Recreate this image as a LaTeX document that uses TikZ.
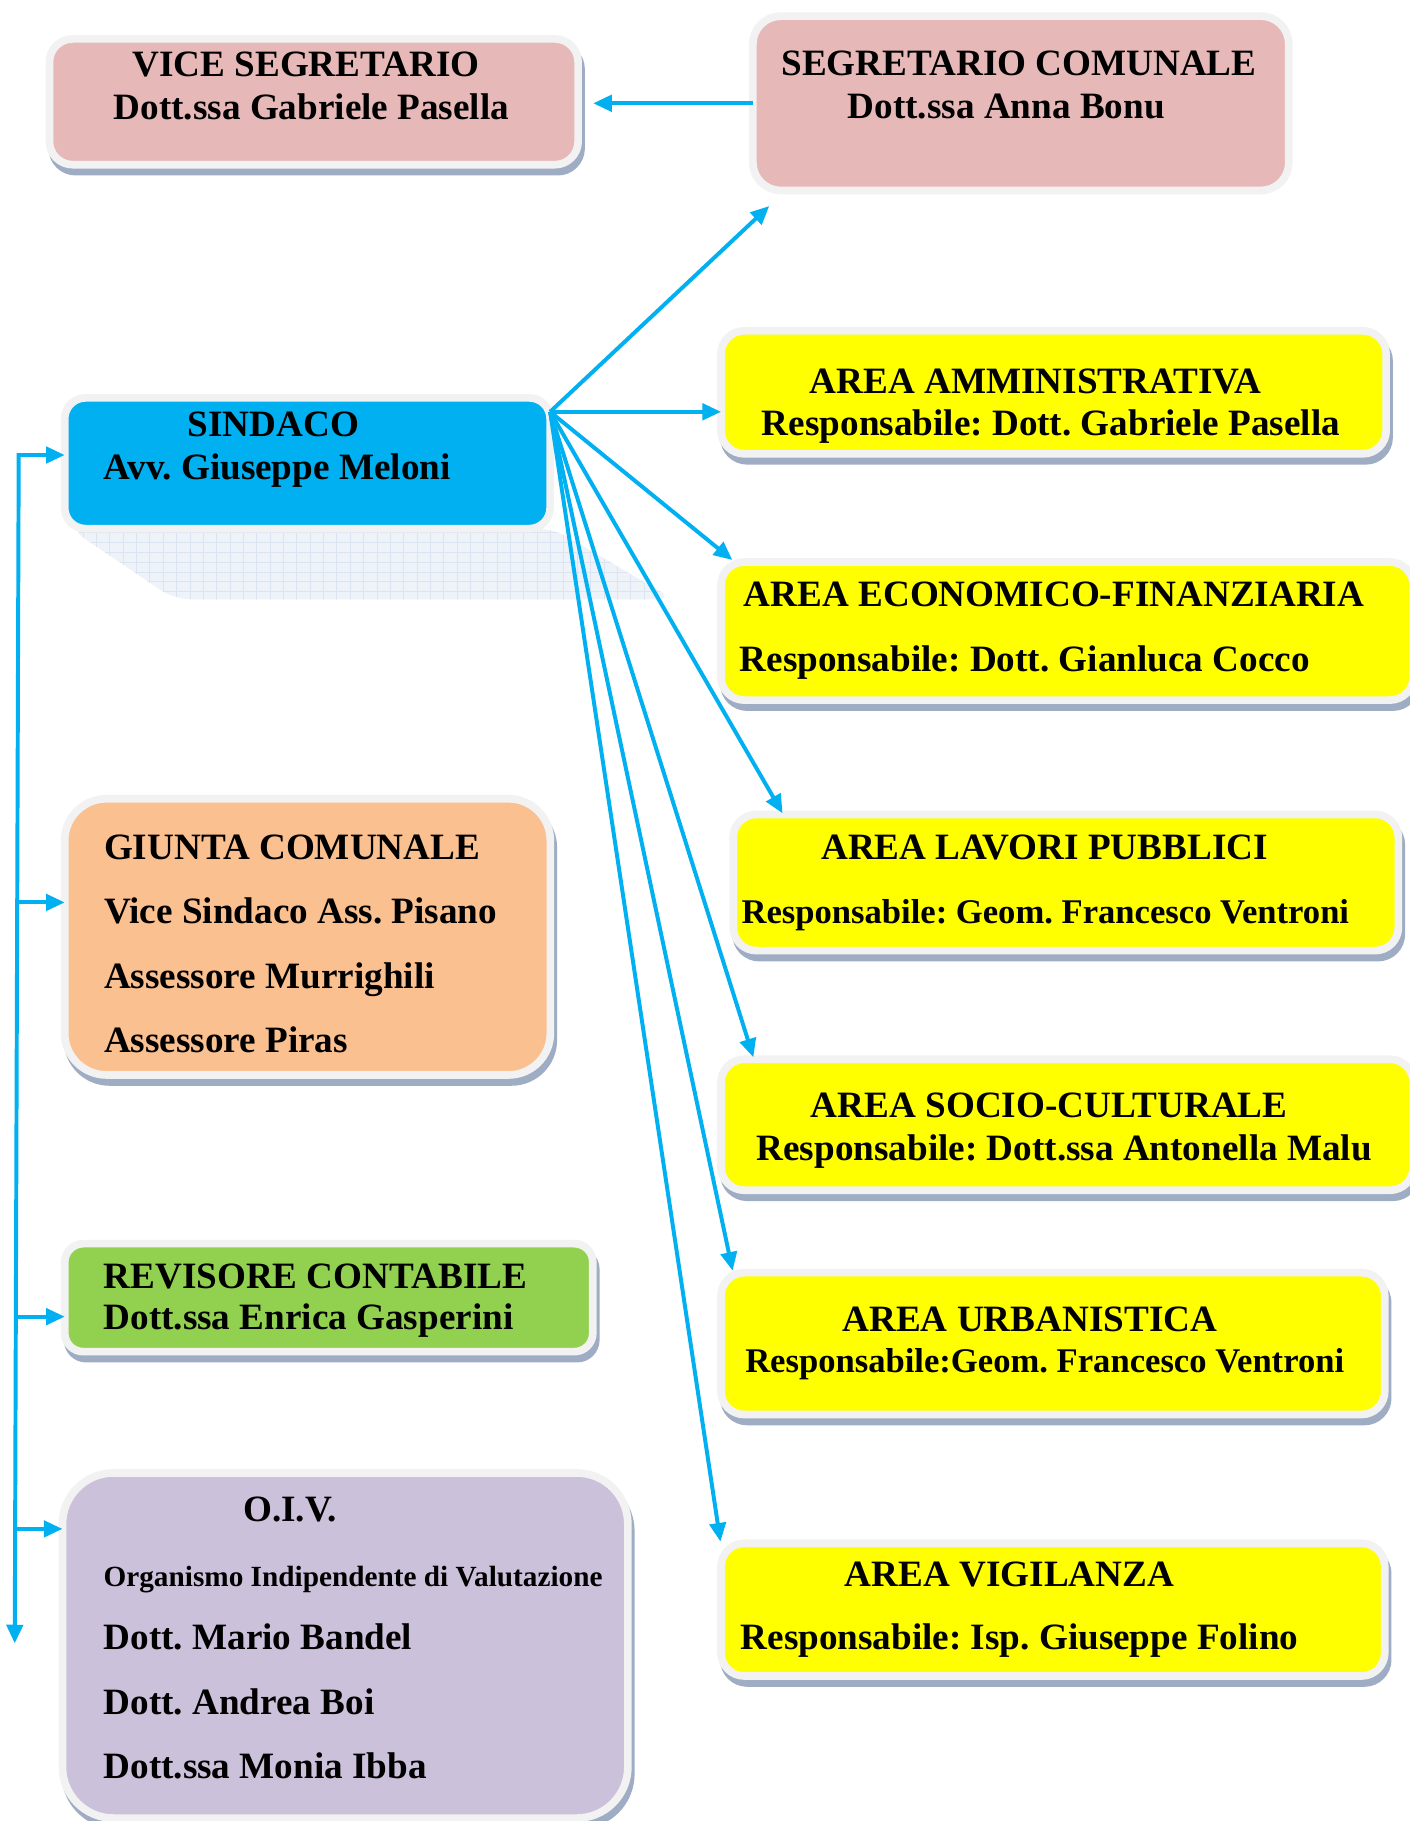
\documentclass[tikz,border=0pt]{standalone}
\usepackage{fontspec}
\newfontfamily\tnr{Liberation Serif}
\usetikzlibrary{arrows.meta,calc}
\pgfdeclarelayer{background}
\pgfsetlayers{background,main}
\definecolor{pinkc}{HTML}{E6B9B8}
\definecolor{bluec}{HTML}{00B0F0}
\definecolor{yellowc}{HTML}{FFFF00}
\definecolor{orangec}{HTML}{FAC090}
\definecolor{greenc}{HTML}{92D050}
\definecolor{lavc}{HTML}{CCC1DA}
\definecolor{bordc}{HTML}{F2F2F2}
\definecolor{arrc}{HTML}{00B0F0}
\definecolor{shc}{HTML}{9FADC4}
\definecolor{sindsh}{HTML}{EEF2F9}
\definecolor{sindgrid}{HTML}{DCE4F1}
\newcommand\mkshadow[2]{\begin{pgfonlayer}{background}\draw[shband,rounded corners=#2] ($(#1.north west)+(2.5,6)$) rectangle ($(#1.south east)+(2.5,6)$);\end{pgfonlayer}}
\frenchspacing
\begin{document}
\frenchspacing
\begin{tikzpicture}[x=1pt,y=-1pt,
  box/.style={rectangle,draw=bordc,line width=6.6pt,inner sep=0pt,outer sep=0pt},
  shband/.style={fill=shc,draw=shc,line width=6.6pt},
  txt/.style={anchor=base west,inner sep=0pt,outer sep=0pt,font=\tnr\bfseries\fontsize{32}{37}\selectfont\frenchspacing},
  txtv/.style={txt,font=\tnr\bfseries\fontsize{29.8}{36}\selectfont\frenchspacing},
  txts/.style={txt,font=\tnr\bfseries\fontsize{25.2}{30}\selectfont\frenchspacing},
  arr/.style={draw=arrc,line width=3.4pt,-{Triangle[length=16pt,width=14pt]}},
  darr/.style={draw=arrc,line width=3.4pt,{Triangle[length=16pt,width=14pt]}-{Triangle[length=16pt,width=14pt]}}]

\begin{pgfonlayer}{background}
\fill[white] (0,0) rectangle (1214,1568);
\end{pgfonlayer}
\useasboundingbox (0,0) rectangle (1214,1568);

% boxes
\node[box,fill=pinkc,rounded corners=20pt,minimum width=455.2pt,minimum height=108.3pt] (vice) at (270.2,87.65) {};
\node[box,fill=pinkc,rounded corners=24pt,minimum width=461.45pt,minimum height=150.1pt] (segr) at (879,88.95) {};
\node[box,fill=bluec,rounded corners=18pt,minimum width=418pt,minimum height=112.6pt] (sind) at (264.7,398.9) {};
\node[box,fill=yellowc,rounded corners=20pt,minimum width=572.7pt,minimum height=105.9pt] (amm) at (907.2,337.8) {};
\node[box,fill=yellowc,rounded corners=20pt,minimum width=596pt,minimum height=118.85pt] (eco) at (918.85,543.4) {};
\node[box,fill=yellowc,rounded corners=20pt,minimum width=572.75pt,minimum height=117.25pt] (lav) at (917.7,759.9) {};
\node[box,fill=yellowc,rounded corners=20pt,minimum width=596pt,minimum height=112.75pt] (soc) at (918.85,968.5) {};
\node[box,fill=yellowc,rounded corners=20pt,minimum width=571.5pt,minimum height=122.15pt] (urb) at (906.6,1156.9) {};
\node[box,fill=yellowc,rounded corners=20pt,minimum width=571.5pt,minimum height=114.25pt] (vig) at (906.6,1386) {};
\node[box,fill=orangec,rounded corners=36pt,minimum width=418.2pt,minimum height=237.8pt] (giu) at (264.8,806.7) {};
\node[box,fill=greenc,rounded corners=16pt,minimum width=454.7pt,minimum height=93pt] (rev) at (283.1,1117.35) {};
\node[box,fill=lavc,rounded corners=44pt,minimum width=486.85pt,minimum height=297.2pt] (oiv) at (297.2,1416.9) {};

% shadow bands
\mkshadow{vice}{20pt}
\mkshadow{amm}{20pt}
\mkshadow{eco}{20pt}
\mkshadow{lav}{20pt}
\mkshadow{soc}{20pt}
\mkshadow{urb}{20pt}
\mkshadow{vig}{20pt}
\mkshadow{giu}{36pt}
\mkshadow{rev}{16pt}
\mkshadow{oiv}{44pt}

% perspective shadow of SINDACO
\begin{pgfonlayer}{background}
\begin{scope}
\clip[rounded corners=14pt] (60,455) -- (476,455) -- (580,516) -- (150,516) -- cycle;
\fill[sindsh] (40,440) rectangle (600,530);
\foreach \i in {0,...,48} \draw[sindgrid,line width=0.6pt] (60+\i*11.5,440) -- (60+\i*11.5,530);
\foreach \j in {0,...,10} \draw[sindgrid,line width=0.6pt] (40,458+\j*8.6) -- (600,458+\j*8.6);
\end{scope}
\end{pgfonlayer}

% texts
\node[txt] (vice1) at (114,66.1) {VICE SEGRETARIO};
\node[txt] (vice2) at (98,102.9) {Dott.ssa Gabriele Pasella};
\node[txt] (segr1) at (672.8,65.4) {SEGRETARIO COMUNALE};
\node[txt] (segr2) at (730,101.9) {Dott.ssa Anna Bonu};
\node[txt] (sind1) at (161.5,376) {SINDACO};
\node[txt] (sind2) at (89,413.3) {Avv. Giuseppe Meloni};
\node[txt] (amm1) at (697.4,339.2) {AREA AMMINISTRATIVA};
\node[txt] (amm2) at (656.1,375.4) {Responsabile: Dott. Gabriele Pasella};
\node[txt] (eco1) at (640.5,522.4) {AREA ECONOMICO-FINANZIARIA};
\node[txt] (eco2) at (637,578.3) {Responsabile: Dott. Gianluca Cocco};
\node[txt] (lav1) at (707.1,740.5) {AREA LAVORI PUBBLICI};
\node[txtv] (lav2) at (638.5,795) {Responsabile: Geom. Francesco Ventroni};
\node[txt] (soc1) at (698.2,962) {AREA SOCIO-CULTURALE};
\node[txt] (soc2) at (651.5,999.4) {Responsabile: Dott.ssa Antonella Malu};
\node[txt] (urb1) at (725.4,1146.6) {AREA URBANISTICA};
\node[txtv] (urb2) at (641.7,1181.9) {Responsabile:Geom. Francesco Ventroni};
\node[txt] (vig1) at (727.4,1366.2) {AREA VIGILANZA};
\node[txt] (vig2) at (637.8,1420.1) {Responsabile: Isp. Giuseppe Folino};
\node[txt] (giu1) at (89.6,740.5) {GIUNTA COMUNALE};
\node[txt] (giu2) at (89.6,795.6) {Vice Sindaco Ass. Pisano};
\node[txt] (giu3) at (89.6,851) {Assessore Murrighili};
\node[txt] (giu4) at (89.6,906.4) {Assessore Piras};
\node[txt] (rev1) at (89.2,1109.3) {REVISORE CONTABILE};
\node[txt] (rev2) at (89.2,1145.2) {Dott.ssa Enrica Gasperini};
\node[txt] (oiv1) at (209.5,1310.2) {O.I.V.};
\node[txts] (oiv2) at (89.2,1366.2) {Organismo Indipendente di Valutazione};
\node[txt] (oiv3) at (89.2,1420.7) {Dott. Mario Bandel};
\node[txt] (oiv4) at (89.2,1476.7) {Dott. Andrea Boi};
\node[txt] (oiv5) at (89.2,1531.2) {Dott.ssa Monia Ibba};

% connectors
\draw[arr] (segr.west) -- ($(vice.east |- segr.west)+(13,0)$);
\coordinate (hub) at ($(sind.north east)+(0,12)$);
\draw[arr] (hub) -- ($(segr.south west)+(14.1,13.4)$);
\draw[arr] (hub) -- (hub -| amm.west);
\draw[arr] (hub) -- ($(eco.north west)+(9.75,-1.8)$);
\draw[arr] (hub) -- ($(lav.north west)+(42.5,-1)$);
\draw[arr] (hub) -- ($(soc.north west)+(27.85,-1.75)$);
\draw[arr] (hub) -- ($(urb.north west)+(10,-1.7)$);
\draw[arr] (hub) -- ($(vig.north west)+(-0.5,-1.5)$);

\coordinate (bustop) at (16.1,391.8);
\coordinate (busbot) at (12.7,1415);
\draw[darr] (bustop -| sind.west) -- (bustop) -- (busbot);
\coordinate (b2) at ($(bustop)!0.3765!(busbot)$);
\coordinate (b3) at ($(bustop)!0.7251!(busbot)$);
\coordinate (b4) at ($(bustop)!0.9037!(busbot)$);
\draw[arr] (b2) -- (b2 -| giu.west);
\draw[arr] (b3) -- (b3 -| rev.west);
\draw[arr] (b4) -- (b4 -| oiv.west);
\end{tikzpicture}
\end{document}
